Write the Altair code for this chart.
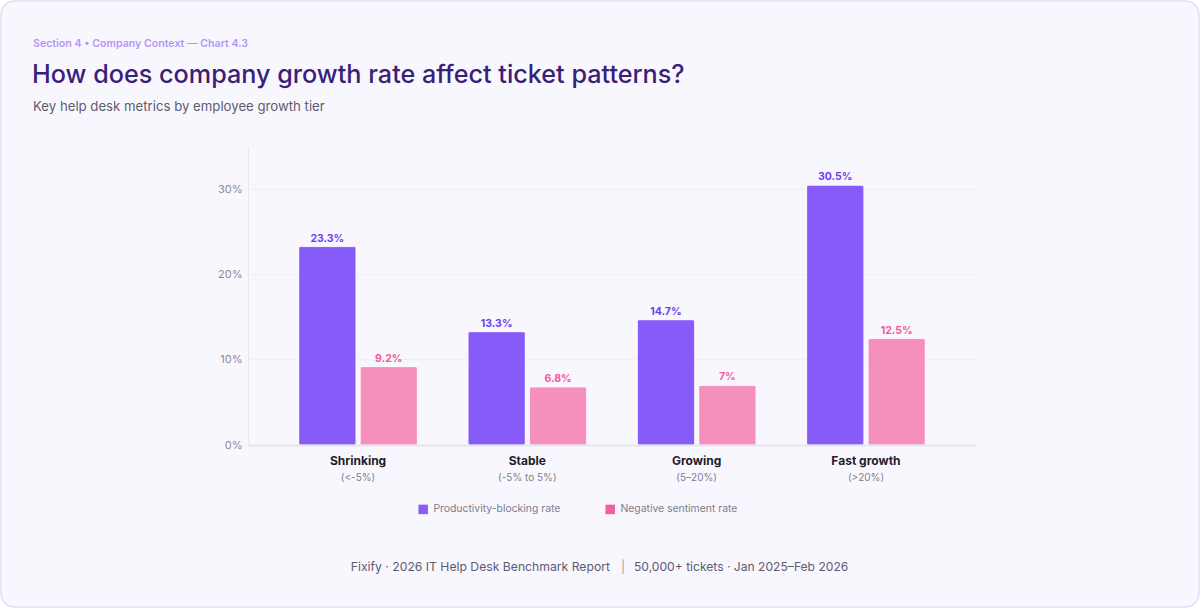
import altair as alt
import pandas as pd

categories = ["Shrinking", "Stable", "Growing", "Fast growth"]
sublabels = ["(<-5%)", "(-5% to 5%)", "(5–20%)", "(>20%)"]
series = ["Productivity-blocking rate", "Negative sentiment rate"]
productivity_blocking = [23.3, 13.3, 14.7, 30.5]
negative_sentiment = [9.2, 6.8, 7.0, 12.5]
y_ticks = [0, 10, 20, 30]
grid_ticks = [10, 20, 30]

bar_colors = ["#875bf8", "#f590bc"]
legend_colors = ["#8b5cf6", "#f0609f"]
label_colors = ["#6e3df0", "#ee5a9a"]

rows = []
for c, p, n in zip(categories, productivity_blocking, negative_sentiment):
    rows.append({"category": c, "series": series[0], "value": p, "label": f"{p:g}%"})
    rows.append({"category": c, "series": series[1], "value": n, "label": f"{n:g}%"})
df = pd.DataFrame(rows)
sub_df = pd.DataFrame({"category": categories, "sub": sublabels})
grid_df = pd.DataFrame({"value": grid_ticks})
one = pd.DataFrame({"a": [0]})

W, H = 728, 298
PL, PT = 248, 147
FONT = "Inter"

x_enc = alt.X("category:N", sort=categories,
              scale=alt.Scale(paddingInner=0.3, paddingOuter=0.3),
              axis=alt.Axis(title=None, labelFontWeight="bold", labelFontSize=12,
                            labelColor="#1f1d2b", labelPadding=10, ticks=False,
                            domainColor="#e6e3ee", domainWidth=2, labelAngle=0,
                            labelFont=FONT, grid=False, zindex=1))
xo_enc = alt.XOffset("series:N", sort=series,
                     scale=alt.Scale(paddingInner=0.07, paddingOuter=0))
y_scale = alt.Scale(domain=[0, 35], nice=False)
y_enc = alt.Y("value:Q", scale=y_scale,
              axis=alt.Axis(title=None, values=y_ticks, labelExpr="datum.value + '%'",
                            ticks=False, labelColor="#8a8a9e", labelFontSize=11,
                            labelPadding=6, domainColor="#ebe8f2", grid=False,
                            labelFont=FONT, zindex=1))

card = alt.Chart(one).mark_rect(fill="#f9f7fe", stroke="#e3ddf6", strokeWidth=1.5,
                                cornerRadius=14).encode(
    x=alt.value(-PL + 1), x2=alt.value(1200 - PL - 1),
    y=alt.value(-PT + 1), y2=alt.value(608 - PT - 1))

grid = alt.Chart(grid_df).mark_rule(color="#efecf5", strokeWidth=1).encode(
    y=alt.Y("value:Q", scale=y_scale), x=alt.value(0), x2=alt.value(W))

bars = alt.Chart(df).mark_bar(cornerRadius=2, stroke="#ffffff", strokeOpacity=0.35,
                              strokeWidth=1).encode(
    x=x_enc, xOffset=xo_enc, y=y_enc,
    color=alt.Color("series:N", sort=series,
                    scale=alt.Scale(domain=series, range=bar_colors), legend=None))

legend_layer = alt.Chart(df).mark_bar(strokeWidth=0, opacity=1).encode(
    x=x_enc, xOffset=xo_enc,
    y=alt.value(H), y2=alt.value(H),
    color=alt.Color("series:N", sort=series,
                    scale=alt.Scale(domain=series, range=legend_colors),
                    legend=alt.Legend(title=None, orient="none", legendX=170, legendY=357,
                                      direction="horizontal", symbolType="square",
                                      symbolSize=90, labelFontSize=10.4, labelColor="#7c7b8e",
                                      labelFont=FONT, columnPadding=44, labelOffset=5,
                                      symbolStrokeWidth=0)))

labels = alt.Chart(df).mark_text(fontWeight="bold", fontSize=10.5, baseline="alphabetic",
                                 dy=-5, font=FONT).encode(
    x=x_enc, xOffset=xo_enc, y=y_enc, text="label:N",
    color=alt.Color("series:N", sort=series,
                    scale=alt.Scale(domain=series, range=label_colors), legend=None))

subs = alt.Chart(sub_df).mark_text(fontSize=10, color="#7f7e90", font=FONT,
                                   baseline="middle").encode(
    x=x_enc, y=alt.value(H + 33), text="sub:N")

def note(txt, x, y, size, color, weight="normal", align="left", baseline="alphabetic"):
    return alt.Chart(one).mark_text(text=txt, fontSize=size, color=color, fontWeight=weight,
                                    align=align, baseline=baseline, font=FONT).encode(
        x=alt.value(x), y=alt.value(y))

section = note("Section 4 • Company Context — Chart 4.3", 33 - PL, 47 - PT, 10.6, "#b197f7", 600)
title = note("How does company growth rate affect ticket patterns?", 32 - PL, 83 - PT, 25.2,
             "#3a1f7a", 500)
subtitle = note("Key help desk metrics by employee growth tier", 33 - PL, 111 - PT, 13.2,
                "#5d5c70")
foot_l = note("Fixify · 2026 IT Help Desk Benchmark Report", 610 - PL, 571 - PT, 12.2,
              "#5c5b70", align="right")
foot_m = note("|", 623 - PL, 571 - PT, 12.2, "#9c9aad", align="center")
foot_r = note("50,000+ tickets · Jan 2025–Feb 2026", 634 - PL, 571 - PT, 12.1, "#5c5b70")

chart = alt.layer(card, grid, bars, legend_layer, labels, subs, section, title, subtitle,
                  foot_l, foot_m, foot_r).resolve_scale(color="independent").properties(
    width=W, height=H,
    autosize=alt.AutoSizeParams(type="none"),
    padding={"left": PL, "top": PT, "right": 1200 - PL - W, "bottom": 608 - PT - H},
    background="#ffffff",
).configure_view(stroke=None)

chart.save("out.html", embed_options={"renderer": "svg", "actions": False})
